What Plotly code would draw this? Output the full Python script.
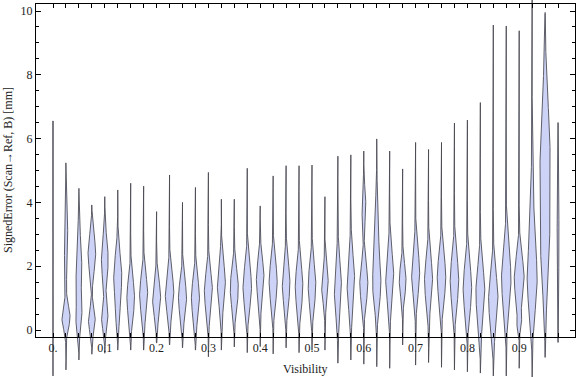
import numpy as np
import plotly.graph_objects as go

# ---------------- data ----------------
VISIBILITY = [0.000, 0.025, 0.050, 0.075, 0.100, 0.125, 0.150, 0.175, 0.200, 0.225,
              0.250, 0.275, 0.300, 0.325, 0.350, 0.375, 0.400, 0.425, 0.450, 0.475,
              0.500, 0.525, 0.550, 0.575, 0.600, 0.625, 0.650, 0.675, 0.700, 0.725,
              0.750, 0.775, 0.800, 0.825, 0.850, 0.875, 0.900, 0.925, 0.950, 0.975]

ERR_MIN = [-1.44, -1.25, -0.94, -0.76, -0.73, -0.63, -0.63, -0.63, -0.41, -0.47,
           -0.56, -0.63, -0.84, -0.63, -0.53, -0.71, -0.52, -0.75, -0.56, -0.71,
           -0.63, -0.63, -1.04, -0.94, -1.07, -1.15, -1.20, -0.47, -1.10, -1.02,
           -1.17, -1.25, -1.31, -1.35, -1.44, -1.44, -1.20, -1.50, -0.86, -0.39]

ERR_MAX = [6.55, 5.24, 4.44, 3.92, 4.18, 4.39, 4.60, 4.51, 3.71, 4.86,
           4.00, 4.47, 4.94, 4.10, 4.10, 5.07, 3.89, 4.83, 5.15, 5.15,
           5.17, 4.18, 5.45, 5.49, 5.61, 5.99, 5.61, 5.05, 5.88, 5.66,
           5.88, 6.49, 6.58, 7.13, 9.56, 9.53, 9.38, 10.50, 9.95, 6.50]

# density modes of each distribution: (centre, spread, relative density)
MODES = [
    [(3.0, 2.2, 0.18)],
    [(0.4, 0.35, 0.9), (2.9, 0.9, 0.4)],
    [(0.35, 0.35, 0.55), (1.9, 0.9, 0.65)],
    [(0.3, 0.35, 0.75), (2.4, 0.55, 0.85)],
    [(0.35, 0.35, 0.7), (2.2, 0.65, 0.75)],
    [(0.4, 0.3, 0.3), (1.65, 0.7, 0.9)],
    [(1.0, 0.6, 0.85)],
    [(1.1, 0.6, 0.9)],
    [(1.0, 0.55, 0.9)],
    [(1.15, 0.6, 0.95)],
    [(1.0, 0.55, 0.9)],
    [(1.0, 0.6, 0.9)],
    [(1.2, 0.6, 0.9)],
    [(1.45, 0.65, 0.9)],
    [(1.3, 0.6, 0.9)],
    [(1.35, 0.65, 0.95)],
    [(1.6, 0.6, 0.85)],
    [(1.5, 0.65, 0.9)],
    [(1.45, 0.65, 0.85)],
    [(1.35, 0.65, 0.85)],
    [(1.4, 0.65, 0.85)],
    [(1.4, 0.5, 0.75)],
    [(1.3, 0.8, 0.8)],
    [(1.5, 0.8, 0.85)],
    [(1.45, 0.6, 0.9), (3.9, 0.5, 0.45)],
    [(1.45, 0.7, 0.9), (3.3, 0.8, 0.4)],
    [(1.65, 0.75, 0.9)],
    [(1.55, 0.5, 0.75)],
    [(1.8, 0.7, 0.9)],
    [(1.55, 0.7, 0.9)],
    [(1.65, 0.7, 0.95)],
    [(1.55, 0.75, 0.95)],
    [(1.3, 0.75, 0.95)],
    [(1.15, 0.8, 1.0)],
    [(0.95, 0.8, 1.05)],
    [(1.6, 0.9, 1.05)],
    [(1.6, 0.7, 1.1), (0.2, 0.2, 0.4)],
    [(1.6, 1.0, 1.1), (4.0, 1.0, 0.3)],
    [(5.4, 1.7, 1.1), (2.3, 1.2, 0.75)],
    [(3.0, 1.8, 0.2)],
]

X_LABELS = {0.0: "0.", 0.1: "0.1", 0.2: "0.2", 0.3: "0.3", 0.4: "0.4",
            0.5: "0.5", 0.6: "0.6", 0.7: "0.7", 0.8: "0.8", 0.9: "0.9"}
Y_TICKS = [0, 2, 4, 6, 8, 10]
Y_MINOR = [v / 2 for v in range(0, 21) if v % 4 != 0]

# ---------------- styling ----------------
W, H = 576, 377
FILL = "#cdd3f6"
EDGE = "rgba(70,70,80,0.85)"
FONT = dict(family="Liberation Serif, Times New Roman, serif", size=12, color="#222222")
HALF_WIDTH = 0.0087  # x-units for relative density 1

# pixel geometry of the frame
PX_X0, PX_PER_X = 53.0, 518.0       # pixel of x=0, pixels per x-unit
PX_Y0, PX_PER_Y = 330.0, 31.9       # pixel of y=0, pixels per y-unit
FRAME_L, FRAME_R, FRAME_T, FRAME_B = 36, 575, 4, 337

xr = [(FRAME_L - PX_X0) / PX_PER_X, (FRAME_R - PX_X0) / PX_PER_X]
yr_full = [(PX_Y0 - H) / PX_PER_Y, PX_Y0 / PX_PER_Y]
yr_frame = [(PX_Y0 - FRAME_B) / PX_PER_Y, (PX_Y0 - FRAME_T) / PX_PER_Y]

fig = go.Figure()

for pos, lo, hi, modes in zip(VISIBILITY, ERR_MIN, ERR_MAX, MODES):
    ys = np.linspace(lo, hi, 400)
    dens = np.zeros_like(ys)
    for c, s, a in modes:
        dens += a * np.exp(-0.5 * ((ys - c) / s) ** 2)
    hw = HALF_WIDTH * dens
    xs = np.concatenate([pos + hw, (pos - hw)[::-1]])
    yy = np.concatenate([ys, ys[::-1]])
    fig.add_trace(go.Scatter(
        x=xs, y=yy, mode="lines", fill="toself", fillcolor=FILL,
        line=dict(color=EDGE, width=1), hoverinfo="skip",
        xaxis="x", yaxis="y", showlegend=False))

# empty trace for the frame subplot
fig.add_trace(go.Scatter(x=[None], y=[None], xaxis="x2", yaxis="y2",
                         showlegend=False, hoverinfo="skip"))

ticktext = [X_LABELS.get(round(v, 3), "") for v in VISIBILITY]

fig.update_layout(
    width=W, height=H, autosize=False,
    margin=dict(l=FRAME_L, r=W - FRAME_R, t=0, b=0, pad=0),
    paper_bgcolor="white", plot_bgcolor="rgba(0,0,0,0)",
    showlegend=False, font=FONT,
    xaxis=dict(domain=[0, 1], range=xr, visible=False, anchor="y", fixedrange=True),
    yaxis=dict(domain=[0, 1], range=yr_full, visible=False, anchor="x", fixedrange=True),
    xaxis2=dict(domain=[0, 1], range=xr, anchor="y2",
                tickmode="array", tickvals=VISIBILITY, ticktext=ticktext,
                ticks="inside", ticklen=4, tickwidth=1, tickcolor="black",
                showline=True, linecolor="black", linewidth=1, mirror="ticks",
                showgrid=False, zeroline=False, tickfont=FONT, fixedrange=True),
    yaxis2=dict(domain=[(H - FRAME_B) / H, (H - FRAME_T) / H], range=yr_frame, anchor="x2",
                tickmode="array", tickvals=Y_TICKS, ticktext=[str(v) for v in Y_TICKS],
                ticks="inside", ticklen=5, tickwidth=1, tickcolor="black",
                minor=dict(tickmode="array", tickvals=Y_MINOR, ticks="inside",
                           ticklen=3, tickwidth=1, tickcolor="black"),
                showline=True, linecolor="black", linewidth=1, mirror="ticks",
                showgrid=False, zeroline=False, tickfont=FONT, fixedrange=True),
    annotations=[
        dict(text="Visibility", xref="paper", yref="paper",
             x=0.5, y=(H - 369) / H, xanchor="center", yanchor="middle",
             showarrow=False, font=FONT),
        dict(text="SignedError (Scan\u2192Ref, B) [mm]", xref="paper", yref="paper",
             x=(8 - FRAME_L) / (FRAME_R - FRAME_L), y=(H - 170) / H,
             xanchor="center", yanchor="middle", textangle=-90,
             showarrow=False, font=FONT),
    ],
)

fig.write_html("out.html", config={"displayModeBar": False},
               post_script="document.body.style.margin='0px';document.body.style.overflow='hidden';")
